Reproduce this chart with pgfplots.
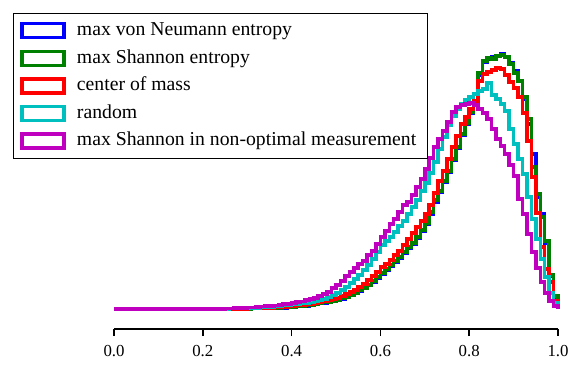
\documentclass[border=0pt]{standalone}
\usepackage{fontspec}
\setmainfont{Liberation Serif}
\usepackage{pgfplots}
\usepackage{pgfplotstable}
\pgfplotsset{compat=1.18}

\definecolor{mplb}{rgb}{0,0,1}
\definecolor{mplg}{rgb}{0,0.5,0}
\definecolor{mplr}{rgb}{1,0,0}
\definecolor{mplc}{rgb}{0,0.75,0.75}
\definecolor{mplm}{rgb}{0.75,0,0.75}

% histogram heights, left bin edges, bin width 0.01
\pgfplotstableread{
x     b     g     r     c     m
0.00  0     0     0     0     0
0.25  0     0     0     0     0.5
0.26  0     0     0     0.3   0.5
0.27  0     0     0     0.5   0.8
0.28  0     0     0     0.5   1
0.29  0     0     0     0.8   1
0.30  0.2   0.2   0.3   1     1.5
0.31  0.3   0.3   0.5   1     1.5
0.32  0.4   0.4   0.5   1.2   2
0.33  0.5   0.5   0.8   1.5   2.5
0.34  0.5   0.5   1     2     3
0.35  0.6   0.6   1     2     3
0.36  0.8   0.8   1.3   2.5   3.5
0.37  1     1     1.5   3     4
0.38  1.2   1.3   2     3.5   5
0.39  1.5   1.6   2.5   4     5
0.40  2     2     3     4.5   6
0.41  2.3   2.4   3.3   5     7
0.42  2.7   2.8   3.7   5.5   7.5
0.43  3.2   3.3   4.5   6     9
0.44  3.8   4     5     7     10
0.45  4.6   5     6     8     11
0.46  5.3   5.5   6.5   9     13
0.47  6.2   6.5   7.5   10    15
0.48  7     7     8.5   12    17
0.49  7.8   8     10    14    21
0.50  8.8   9     11    16    24
0.51  10    10.5  13    19    28
0.52  11.5  12    15    22    33
0.53  13.5  14    17    26    37
0.54  15.5  16    19    30    41
0.55  18    19    22    34    45
0.56  20.5  21    25    39    48
0.57  23.5  24    29    44    54
0.58  27    28    33    50    58
0.59  31    32    37    57    65
0.60  35    36    42    64    72
0.61  39    40    45    68    78
0.62  43    44    49    72    85
0.63  47    48    54    77    90
0.64  51    52    58    83    97
0.65  56    57    64    88    104
0.66  61    62    70    95    107
0.67  65    66    76    102   114
0.68  71    72    82    109   122
0.69  78    79    88    118   130
0.70  85    86    95    126   140
0.71  95    97    104   136   151
0.72  107   109   116   147   162
0.73  117   118   128   160   170
0.74  127   128   138   172   178
0.75  137   138   150   184   187
0.76  149   150   162   193   197
0.77  161   162   173   200   202
0.78  174   175   185   205   204
0.79  185   186   192   209   205
0.80  196   197   200   212   206
0.81  205   206   208   215   204
0.82  234   236   228   218   200
0.83  247   248   235   220   196
0.84  250   251   237   226   190
0.85  252   250   239   214   180
0.86  253   253   241   210   170
0.87  255   254   240   205   163
0.88  252   252   234   198   155
0.89  246   245   227   180   144
0.90  238   236   221   165   133
0.91  228   228   212   150   110
0.92  210   212   196   135   95
0.93  185   190   168   112   75
0.94  155   142   132   90    57
0.95  112   115   96    70    41
0.96  95    92    62    50    27
0.97  66    68    40    32    16
0.98  33    34    27    16    8
0.99  12    13    8     6     3
1.00  0     0     0     0     0
}\hist

\begin{document}
\begin{tikzpicture}
\useasboundingbox (-57pt,-21.5pt) rectangle (233.5pt,164.5pt);
\begin{axis}[
    name=ax,
    scale only axis,
    width=222pt, height=140pt,
    xmin=0, xmax=1, ymin=-20, ymax=260,
    clip=false,
    axis line style={draw=none},
    ytick=\empty,
    xtick pos=bottom,
    xtick={0,0.2,0.4,0.6,0.8,1},
    xticklabels={0.0,0.2,0.4,0.6,0.8,1.0},
    tick align=outside,
    major tick length=3.5pt,
    major tick style={draw=black, line width=0.75pt},
    xticklabel style={font=\fontsize{8.4}{10}\selectfont, yshift=-1pt},
    every axis plot/.append style={const plot, line width=1.75pt, line join=miter, no markers},
    legend image code/.code={\draw[#1] (0pt,-3.5pt) rectangle (21pt,3.5pt);},
    legend cell align=left,
    legend style={at={(-0.2275,1.1286)}, anchor=north west,
        draw=black, line width=0.5pt,
        font=\fontsize{9.85}{11}\selectfont,
        inner xsep=3.5pt, inner ysep=2pt,
        row sep=0.6pt, column sep=3.5pt,
        nodes={text height=7pt, text depth=2.2pt}},
]
\addplot[mplb] table[x=x, y=b] {\hist};
\addplot[mplg] table[x=x, y=g] {\hist};
\addplot[mplr] table[x=x, y=r] {\hist};
\addplot[mplc] table[x=x, y=c] {\hist};
\addplot[mplm] table[x=x, y=m] {\hist};
\legend{max von Neumann entropy, max Shannon entropy, center of mass, random, max Shannon in non-optimal measurement}
\end{axis}
\draw[black, line width=0.75pt] (ax.south west) -- (ax.south east);
\end{tikzpicture}
\end{document}
